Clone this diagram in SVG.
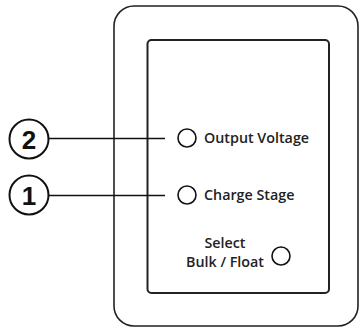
<svg xmlns="http://www.w3.org/2000/svg" width="360" height="328" viewBox="0 0 360 328">
<style>
.frame{fill:none;stroke:#222;stroke-width:1.6}
.panel{fill:none;stroke:#222;stroke-width:2}
.led{fill:#fff;stroke:#111;stroke-width:1.6}
.callout{fill:#fff;stroke:#111;stroke-width:2}
.num{font-family:"Liberation Sans",Arial,sans-serif;font-weight:bold;font-size:26px;fill:#111;text-anchor:middle}
.lbl{font-family:"Open Sans","Noto Sans",sans-serif;font-weight:600;font-size:14.3px;fill:#222}
.conn{stroke:#111;stroke-width:1.5;fill:none}
</style>
<rect width="360" height="328" fill="#fff"/>
<g id="housing">
<rect class="frame" x="114" y="6" width="244" height="320" rx="20"/>
<rect class="panel" x="147.5" y="40" width="181.5" height="253" rx="4"/>
</g>
<g id="connectors">
<line class="conn" x1="49" y1="138.5" x2="165" y2="138.5"/>
<line class="conn" x1="49" y1="195.5" x2="165" y2="195.5"/>
</g>
<g id="callout-2">
<circle class="callout" cx="29" cy="139" r="19.5"/>
<text class="num" x="29" y="148.5">2</text>
</g>
<g id="callout-1">
<circle class="callout" cx="29" cy="195" r="19.5"/>
<text class="num" x="29" y="204.5">1</text>
</g>
<g id="output-voltage">
<circle class="led" cx="187" cy="138" r="9"/>
<text class="lbl" x="204" y="143">Output Voltage</text>
</g>
<g id="charge-stage">
<circle class="led" cx="187" cy="195" r="9"/>
<text class="lbl" x="204" y="200">Charge Stage</text>
</g>
<g id="select-bulk-float">
<circle class="led" cx="281" cy="256" r="9"/>
<text class="lbl" x="225" y="248" text-anchor="middle">Select</text>
<text class="lbl" x="225" y="267" text-anchor="middle">Bulk / Float</text>
</g>
</svg>
